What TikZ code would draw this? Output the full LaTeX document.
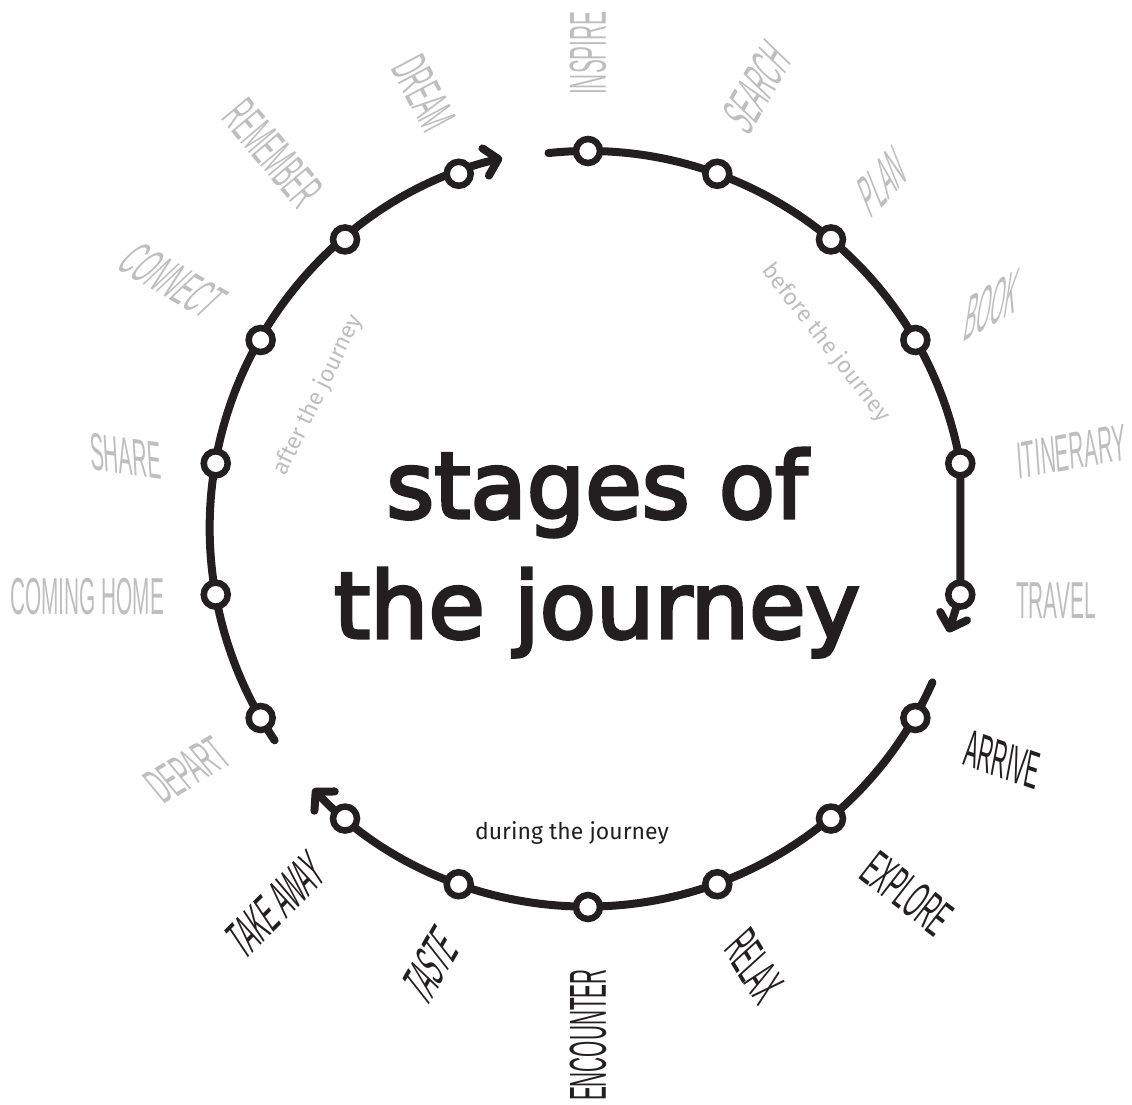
\documentclass[tikz,border=0pt]{standalone}
\usepackage{fontspec}
\setmainfont{Fira Sans}
\newfontfamily\titlefont[FakeBold=3.5]{DejaVu Sans}
\newfontfamily\labfont[FakeStretch=0.4]{Liberation Sans}
\usetikzlibrary{arrows.meta}
\definecolor{ink}{HTML}{231F20}
\definecolor{labgray}{HTML}{BEBEBE}
\begin{document}
\begin{tikzpicture}[x=1pt,y=1pt,
  track/.style={line width=8pt, draw=ink, line cap=round, line join=round},
  tipped/.style={-{Straight Barb[length=13pt,width=28pt,round]}},
  stop/.style={circle, draw=ink, fill=white, line width=6.5pt, minimum size=24pt, inner sep=0pt},
  lab/.style={font=\labfont\fontsize{52}{52}\selectfont, inner sep=0pt},
  before/.style={lab, text=labgray},
  during/.style={lab, text=ink},
  phase/.style={font=\fontsize{23}{23}\selectfont, inner sep=0pt},
  title/.style={font=\titlefont\fontsize{92}{110}\selectfont, text=ink, anchor=base, inner sep=0pt}
]
\useasboundingbox (-588,-575) rectangle (544,529);

% track coordinates
\coordinate (s1) at (96:378);
\coordinate (p10) at (10:378);
\coordinate (pm10) at (-10:378);
\coordinate (e1) at (360.5,-103.4);
\coordinate (s2) at (-24:377);
\coordinate (s3) at (-146:378);

% tracks
\draw[track, tipped] (s1) arc[start angle=96, end angle=10, radius=378] -- (pm10) -- (e1);
\draw[track, tipped] (s2) arc[start angle=-24, end angle=-136.5, radius=378];
\draw[track, tipped] (s3) arc[start angle=-146, end angle=-256.7, radius=380];

% stops
\foreach \a/\n in {90/inspire,70/search,50/plan,30/book,10/itinerary,-10/travel,
  -30/arrive,-50/explore,-70/relax,-90/encounter,-110/taste,-130/takeaway,
  -150/depart,-170/cominghome,170/share,150/connect,130/remember,110/dream}
  \node[stop] (\n) at (\a:378) {};

% labels, right side (read outward)
\node[before, anchor=west, rotate=90] (lInspire) at (90:434) {INSPIRE};
\node[before, anchor=west, rotate=60, xslant=0.25] (lSearch) at (70:430) {SEARCH};
\node[before, anchor=west, rotate=46, xslant=0.45] (lPlan) at (50:428) {PLAN};
\node[before, anchor=west, rotate=30, xslant=0.8] (lBook) at (29:432) {BOOK};
\node[before, anchor=west, rotate=10, xslant=0.1] (lItin) at (9:434) {ITINERARY};
\node[before, anchor=west] (lTravel) at (-9.5:434) {TRAVEL};
\node[during, anchor=west, rotate=-19, xslant=-0.15] (lArrive) at (-30:436) {ARRIVE};
\node[during, anchor=west, rotate=-38] (lExplore) at (-50:436) {EXPLORE};
\node[during, anchor=west, rotate=-59, xslant=-0.2] (lRelax) at (-70:434) {RELAX};
% labels, left side (read inward)
\node[during, anchor=east, rotate=90] (lEncounter) at (-90:440) {ENCOUNTER};
\node[during, anchor=east, rotate=60, xslant=0.4] (lTaste) at (-109:432) {TASTE};
\node[during, anchor=east, rotate=45, xslant=0.2] (lTakeaway) at (-129:430) {TAKE AWAY};
\node[before, anchor=east, rotate=31, xslant=-0.15] (lDepart) at (-149:426) {DEPART};
\node[before, anchor=east] (lHome) at (-171:429) {COMING HOME};
\node[before, anchor=east, rotate=-8, xslant=-0.2] (lShare) at (171:432) {SHARE};
\node[before, anchor=east, rotate=-30, xslant=0.3] (lConnect) at (149:432) {CONNECT};
\node[before, anchor=east, rotate=-50] (lRemember) at (130:430) {REMEMBER};
\node[before, anchor=east, rotate=-62] (lDream) at (110:428) {DREAM};

% phase labels
\node[phase, text=labgray, rotate=-52] (pBefore) at (238,186) {before the journey};
\node[phase, text=ink] (pDuring) at (-16,-304) {during the journey};
\node[phase, text=labgray, rotate=64] (pAfter) at (-270,134) {after the journey};

% title
\node[title] (t1) at (9,11) {stages of};
\node[title] (t2) at (9,-109) {the journey};
\end{tikzpicture}
\end{document}
